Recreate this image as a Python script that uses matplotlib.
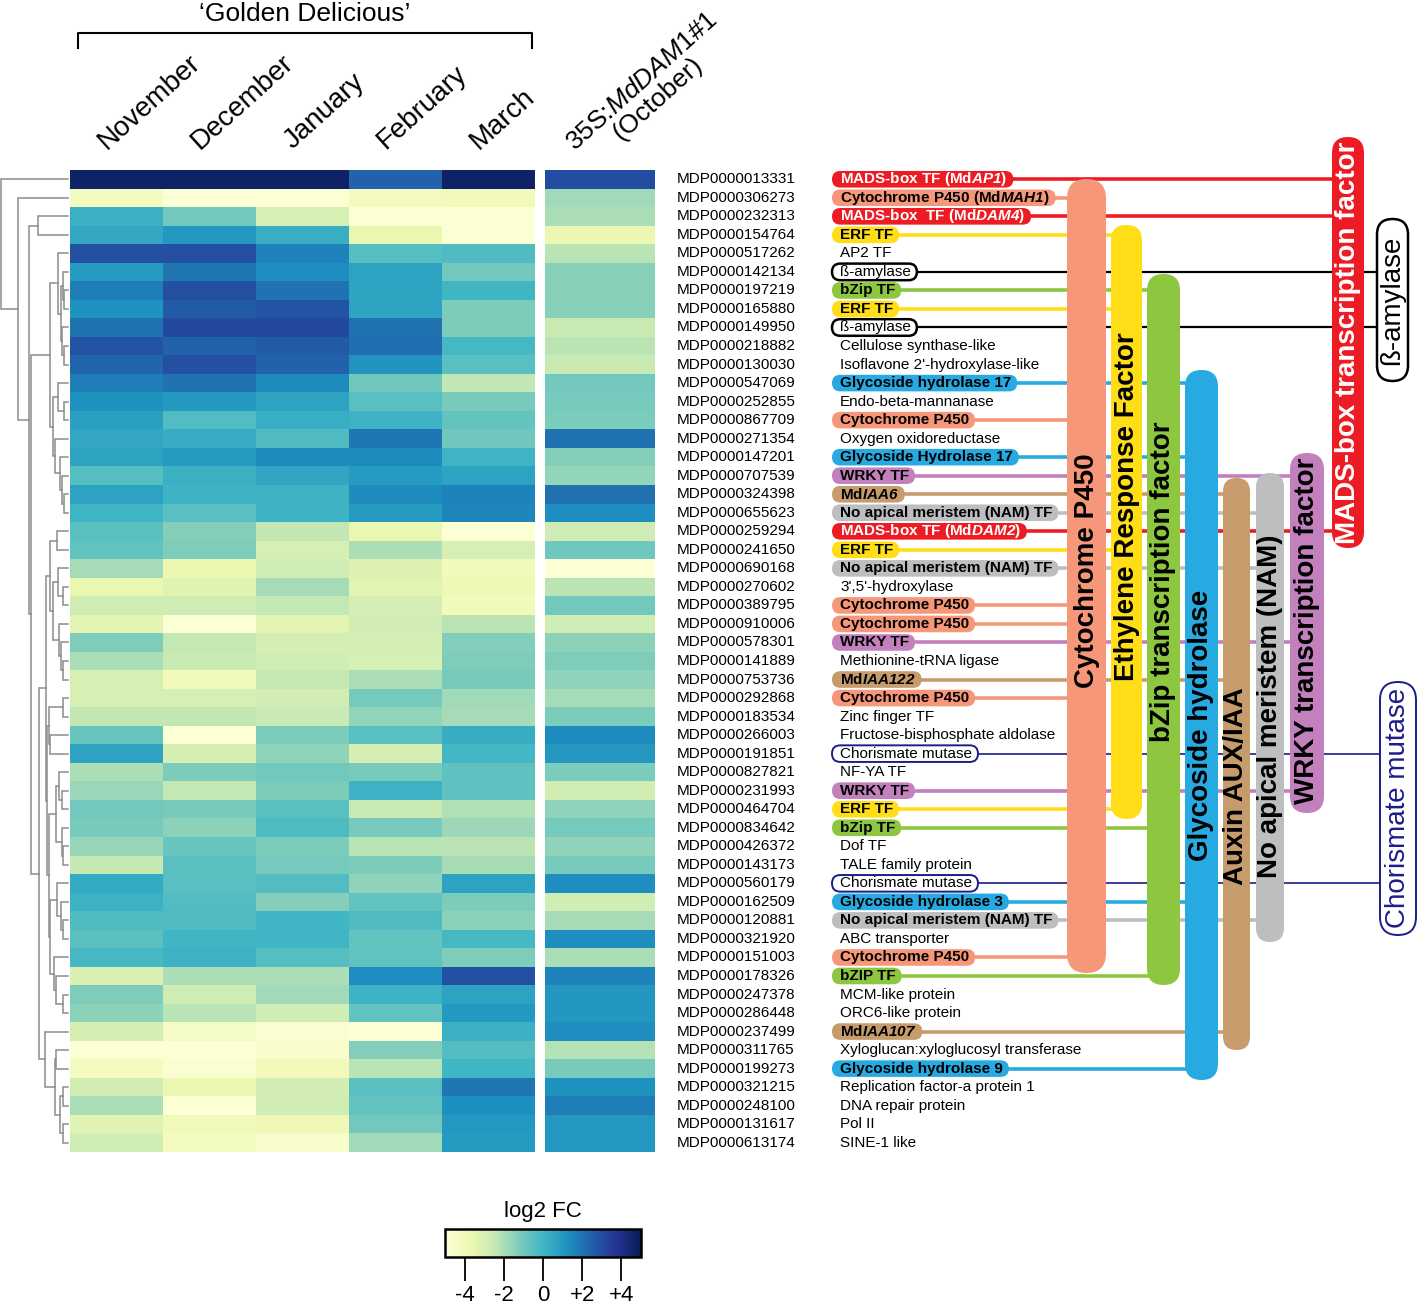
import numpy as np
import matplotlib as mpl
import matplotlib.pyplot as plt
from matplotlib.patches import FancyBboxPatch
from matplotlib.colors import Normalize

plt.rcParams['font.family'] = ['Liberation Sans', 'DejaVu Sans']
plt.rcParams['mathtext.fontset'] = 'custom'
plt.rcParams['mathtext.rm'] = 'Liberation Sans'
plt.rcParams['mathtext.it'] = 'Liberation Sans:italic'
plt.rcParams['mathtext.bf'] = 'Liberation Sans:bold'
plt.rcParams['mathtext.bfit'] = 'Liberation Sans:italic:bold'

# columns of the heatmap
months = ['November', 'December', 'January', 'February', 'March']

gene_ids = ['MDP0000013331', 'MDP0000306273', 'MDP0000232313', 'MDP0000154764', 'MDP0000517262',
            'MDP0000142134', 'MDP0000197219', 'MDP0000165880', 'MDP0000149950', 'MDP0000218882',
            'MDP0000130030', 'MDP0000547069', 'MDP0000252855', 'MDP0000867709', 'MDP0000271354',
            'MDP0000147201', 'MDP0000707539', 'MDP0000324398', 'MDP0000655623', 'MDP0000259294',
            'MDP0000241650', 'MDP0000690168', 'MDP0000270602', 'MDP0000389795', 'MDP0000910006',
            'MDP0000578301', 'MDP0000141889', 'MDP0000753736', 'MDP0000292868', 'MDP0000183534',
            'MDP0000266003', 'MDP0000191851', 'MDP0000827821', 'MDP0000231993', 'MDP0000464704',
            'MDP0000834642', 'MDP0000426372', 'MDP0000143173', 'MDP0000560179', 'MDP0000162509',
            'MDP0000120881', 'MDP0000321920', 'MDP0000151003', 'MDP0000178326', 'MDP0000247378',
            'MDP0000286448', 'MDP0000237499', 'MDP0000311765', 'MDP0000199273', 'MDP0000321215',
            'MDP0000248100', 'MDP0000131617', 'MDP0000613174']

annotations = ['MADS-box TF (Md$\\mathbfit{AP1}$)', 'Cytochrome P450 (Md$\\mathbfit{MAH1}$)',
               'MADS-box  TF (Md$\\mathbfit{DAM4}$)', 'ERF TF', 'AP2 TF', 'ß-amylase', 'bZip TF',
               'ERF TF', 'ß-amylase', 'Cellulose synthase-like', "Isoflavone 2'-hydroxylase-like",
               'Glycoside hydrolase 17', 'Endo-beta-mannanase', 'Cytochrome P450',
               'Oxygen oxidoreductase', 'Glycoside Hydrolase 17', 'WRKY TF', 'Md$\\mathbfit{IAA6}$',
               'No apical meristem (NAM) TF', 'MADS-box TF (Md$\\mathbfit{DAM2}$)', 'ERF TF',
               'No apical meristem (NAM) TF', "3',5'-hydroxylase", 'Cytochrome P450',
               'Cytochrome P450', 'WRKY TF', 'Methionine-tRNA ligase', 'Md$\\mathbfit{IAA122}$',
               'Cytochrome P450', 'Zinc finger TF', 'Fructose-bisphosphate aldolase',
               'Chorismate mutase', 'NF-YA TF', 'WRKY TF', 'ERF TF', 'bZip TF', 'Dof TF',
               'TALE family protein', 'Chorismate mutase', 'Glycoside hydrolase 3',
               'No apical meristem (NAM) TF', 'ABC transporter', 'Cytochrome P450', 'bZIP TF',
               'MCM-like protein', 'ORC6-like protein', 'Md$\\mathbfit{IAA107}$',
               'Xyloglucan:xyloglucosyl transferase', 'Glycoside hydrolase 9',
               'Replication factor-a protein 1', 'DNA repair protein', 'Pol II', 'SINE-1 like']

# gene family of each row ('' = not grouped)
families = ['mads', 'cyt', 'mads', 'erf', '', 'amy', 'bzip', 'erf', 'amy', '',
            '', 'gh', '', 'cyt', '', 'gh', 'wrky', 'iaa', 'nam', 'mads',
            'erf', 'nam', '', 'cyt', 'cyt', 'wrky', '', 'iaa', 'cyt', '',
            '', 'cm', '', 'wrky', 'erf', 'bzip', '', '', 'cm', 'gh',
            'nam', '', 'cyt', 'bzip', '', '', 'iaa', '', 'gh', '',
            '', '', '']

# log2 fold change values
nov = [4.7, -4.2, 0.2, 0.5, 2.9, 0.9, 1.7, 1.2, 2.0, 2.8, 2.3, 1.7, 1.2, 0.75, 0.5, 0.65, -0.4, 0.7,
       0.05, -0.5, -0.7, -1.9, -3.6, -2.7, -3.4, -1.25, -2.0, -3.0, -3.0, -2.4, -0.75, 0.6, -2.0,
       -1.7, -1.0, -1.1, -1.65, -2.5, 0.4, 0.15, -0.25, -0.55, -0.1, -3.1, -1.25, -1.45, -2.95,
       -4.8, -4.2, -2.85, -2.0, -3.3, -2.8]
dec = [4.7, -4.8, -1.0, 1.0, 2.9, 1.9, 2.9, 2.6, 3.1, 2.4, 2.9, 2.0, 0.95, -0.35, 0.35, 0.9, 0.2,
       0.1, -0.5, -1.35, -1.25, -3.7, -3.3, -2.7, -4.8, -2.45, -2.6, -4.0, -3.0, -2.4, -4.8, -2.95,
       -1.2, -2.45, -1.1, -1.45, -0.75, -0.5, -0.5, -0.35, -0.3, 0.0, 0.15, -2.0, -2.7, -2.25, -4.3,
       -4.8, -4.65, -3.7, -4.8, -4.0, -4.2]
jan = [4.7, -4.8, -3.0, 0.3, 1.6, 1.3, 2.0, 2.8, 3.1, 2.6, 2.4, 1.4, 0.6, 0.3, -0.3, 1.4, 0.55,
       0.1, 0.1, -2.4, -3.0, -2.7, -1.9, -2.45, -3.4, -2.9, -2.8, -2.5, -2.85, -2.55, -1.2, -1.5,
       -1.0, -1.2, -0.5, -0.25, -1.2, -1.05, -0.35, -1.35, 0.0, 0.0, -0.4, -2.0, -1.8, -2.8, -4.7,
       -4.6, -4.05, -2.85, -2.8, -3.85, -4.5]
feb = [2.4, -4.2, -4.8, -3.6, -0.4, 0.7, 0.6, 0.6, 2.0, 2.1, 1.1, -0.9, -0.5, 0.15, 1.9, 1.4, 0.9,
       1.4, 0.9, -3.6, -2.0, -3.2, -3.4, -2.9, -2.7, -2.9, -3.0, -2.0, -1.05, -1.55, -0.5, -2.9,
       -1.1, 0.15, -2.6, -1.1, -2.25, -1.2, -1.5, -0.65, -0.3, -0.7, -0.65, 1.3, 0.15, -0.7, -4.8,
       -1.3, -2.25, -0.5, -0.65, -1.0, -1.8]
mar = [4.7, -4.0, -4.8, -4.8, -0.3, -1.0, 0.0, -1.2, -1.2, -0.1, -0.5, -2.4, -1.1, -0.7, -0.9,
       0.05, 0.7, 1.6, 1.5, -4.8, -3.0, -4.0, -3.9, -4.0, -2.3, -1.3, -1.25, -1.1, -1.8, -1.9, 0.35,
       -0.05, -0.6, -0.6, -2.1, -1.75, -2.3, -1.95, 0.7, -1.2, -1.45, -0.1, -1.25, 2.9, 0.7, 1.0,
       0.2, -0.35, 0.0, 1.9, 1.25, 1.0, 0.9]
dam1 = [3.0, -1.8, -2.0, -3.7, -2.3, -1.4, -1.4, -1.4, -2.6, -2.3, -2.6, -1.0, -1.1, -1.2, 2.0,
        -1.3, -1.6, 2.0, 1.3, -2.7, -0.9, -4.8, -2.3, -1.0, -2.7, -1.45, -1.25, -1.5, -1.9, -1.2,
        1.4, 1.0, -1.2, -2.8, -1.5, -1.05, -1.5, -1.1, 1.3, -2.8, -1.95, 1.3, -2.0, 1.6, 1.05, 1.05,
        1.3, -2.15, -1.1, 1.2, 1.7, 1.0, 1.0]

# row dendrogram: (left, right, merge height), leaves are row indices
dendro_tree = (0, (1, ((2, 3, 30),
                       (((4, ((5, (6, 7, 4), 5.5), (8, (9, 10, 4), 6), 7), 10),
                         ((11, (12, 13, 4), 10), (14, (15, (16, (17, 18, 4), 6), 8), 13), 15), 18),
                        ((((19, 20, 11), ((21, (22, 23, 5), 10), (24, (25, (26, 27, 5), 7), 9), 15), 18),
                          (((28, 29, 5), (30, 31, 18), 19),
                           (((32, (33, 34, 6), 9), (35, (36, 37, 5), 6), 12),
                            ((38, (39, (40, 41, 5), 7), 11), (42, (43, (44, 45, 5), 12), 14), 18), 19), 21), 22),
                         (46, ((47, 48, 12), ((49, 50, 5), (51, 52, 5), 8), 13), 23), 29), 37), 39), 50), 67.3)

# group bars on the right: label, colour, text colour, x0, x1, y0, y1, label centre y
group_style = {
    'cyt': ('Cytochrome P450', '#F7977A', 'black', 1067, 1106, 179, 973, 571),
    'erf': ('Ethylene Response Factor', '#FFDE17', 'black', 1111, 1142, 225, 819, 507),
    'bzip': ('bZip transcription factor', '#8DC63F', 'black', 1147, 1180, 274, 985, 582),
    'gh': ('Glycoside hydrolase', '#27AAE1', 'black', 1185, 1218, 370, 1080, 725),
    'iaa': ('Auxin AUX/IAA', '#C69C6D', 'black', 1223, 1250, 478, 1050, 786),
    'nam': ('No apical meristem (NAM)', '#BCBEC0', 'black', 1256, 1284, 473, 942, 706),
    'wrky': ('WRKY transcription factor', '#C280BC', 'black', 1290, 1324, 453, 813, 631),
    'mads': ('MADS-box transcription factor', '#ED1C24', 'white', 1332, 1364, 137, 548, 343),
    'amy': ('ß-amylase', 'white', 'black', 1377, 1408, 219, 381, 300),
    'cm': ('Chorismate mutase', 'white', '#1B1D8A', 1380, 1416, 682, 935, 808),
}

W, H = 1417, 1305
fig = plt.figure(figsize=(W / 100, H / 100), dpi=100)
ax = fig.add_axes([0, 0, 1, 1])
ax.set_xlim(0, W)
ax.set_ylim(H, 0)
ax.axis('off')

values = np.column_stack([nov, dec, jan, feb, mar, dam1])
n = len(gene_ids)
row_h = 982 / n
y_edges = 170 + row_h * np.arange(n + 1)
y_mid = y_edges[:-1] + row_h / 2

cmap = plt.get_cmap('YlGnBu')
norm = Normalize(-5, 5)
col_edges = np.linspace(70, 535, len(months) + 1)
ax.pcolormesh(col_edges, y_edges, values[:, :5], cmap=cmap, norm=norm)
ax.pcolormesh([545, 655], y_edges, values[:, 5:], cmap=cmap, norm=norm)

# dendrogram
leaf_x = 68


def draw_node(node):
    if isinstance(node, int):
        return y_mid[node], leaf_x
    left, right, h = node
    yl, xl = draw_node(left)
    yr, xr = draw_node(right)
    x = leaf_x - h
    ax.plot([xl, x, x, xr], [yl, yl, yr, yr], color='#8c8c8c', lw=1.1, solid_joinstyle='miter')
    return (yl + yr) / 2, x


draw_node(dendro_tree)

# column headers
col_mid = (col_edges[:-1] + col_edges[1:]) / 2
for xm, m in zip(col_mid, months):
    ax.text(xm - 10, 150, m, rotation=42, rotation_mode='anchor', ha='left', va='baseline',
            fontsize=20)
ax.text(650, 90, '35S:$\\mathit{MdDAM1}$#1\n(October)', rotation=42, rotation_mode='anchor',
        ha='center', va='center', multialignment='center', fontsize=19, linespacing=1.0)
ax.plot([78, 78, 532, 532], [48, 33, 33, 48], color='black', lw=1.5)
ax.text(305, 14, '\u2018Golden Delicious\u2019', ha='center', va='center', fontsize=19)

# gene ids and annotations
renderer = fig.canvas.get_renderer()
inv = ax.transData.inverted()
for i in range(n):
    y = y_mid[i]
    ax.text(677, y, gene_ids[i], ha='left', va='center', fontsize=11)
    fam = families[i]
    if fam == '':
        ax.text(840, y, annotations[i], ha='left', va='center', fontsize=11)
        continue
    label, fc, tc, x0, x1, y0, y1, ly = group_style[fam]
    if fam in ('amy', 'cm'):
        t = ax.text(840, y, annotations[i], ha='left', va='center', fontsize=11, color='black',
                    zorder=5)
        ec, lw_box = (tc, 1.8) if fam == 'amy' else (tc, 1.4)
        line_c, line_w = tc, (1.6 if fam == 'amy' else 1.2)
    else:
        t = ax.text(840, y, annotations[i], ha='left', va='center', fontsize=11, color=tc,
                    fontweight='bold', zorder=5)
        ec, lw_box = 'none', 0
        line_c, line_w = fc, 2.6
    bb = t.get_window_extent(renderer=renderer)
    right = inv.transform((bb.x1, bb.y0))[0] + 6
    box = FancyBboxPatch((832, y - 8.3), right - 832, 16.6,
                         boxstyle='round,pad=0,rounding_size=8.3',
                         fc=fc, ec=ec, lw=lw_box, zorder=4)
    ax.add_patch(box)
    ax.plot([right - 5, (x0 + x1) / 2], [y, y], color=line_c, lw=line_w, zorder=1,
            solid_capstyle='butt')

# group bars
for key, (label, fc, tc, x0, x1, y0, y1, ly) in group_style.items():
    r = (x1 - x0) / 2
    if key in ('amy', 'cm'):
        patch = FancyBboxPatch((x0, y0), x1 - x0, y1 - y0,
                               boxstyle=f'round,pad=0,rounding_size={r}',
                               fc='white', ec=tc, lw=1.8 if key == 'amy' else 1.4, zorder=2)
        weight = 'normal'
    else:
        patch = FancyBboxPatch((x0, y0), x1 - x0, y1 - y0,
                               boxstyle=f'round,pad=0,rounding_size={r}',
                               fc=fc, ec='none', zorder=2)
        weight = 'bold'
    ax.add_patch(patch)
    ax.text((x0 + x1) / 2, ly, label, rotation=90, ha='center', va='center', fontsize=20,
            color=tc, fontweight=weight, zorder=3)

# colour key
cax = fig.add_axes([445 / W, 1 - 1257 / H, 196 / W, 28 / H])
cb = fig.colorbar(mpl.cm.ScalarMappable(norm=norm, cmap=cmap), cax=cax,
                  orientation='horizontal', ticks=[-4, -2, 0, 2, 4])
cb.ax.set_xticklabels(['-4', '-2', '0', '+2', '+4'])
cb.ax.tick_params(length=17, width=1.3, labelsize=16, pad=3)
cb.outline.set_linewidth(1.8)
ax.text(543, 1212, 'log2 FC', ha='center', va='center', fontsize=16)

fig.savefig('out.png', dpi=100)
